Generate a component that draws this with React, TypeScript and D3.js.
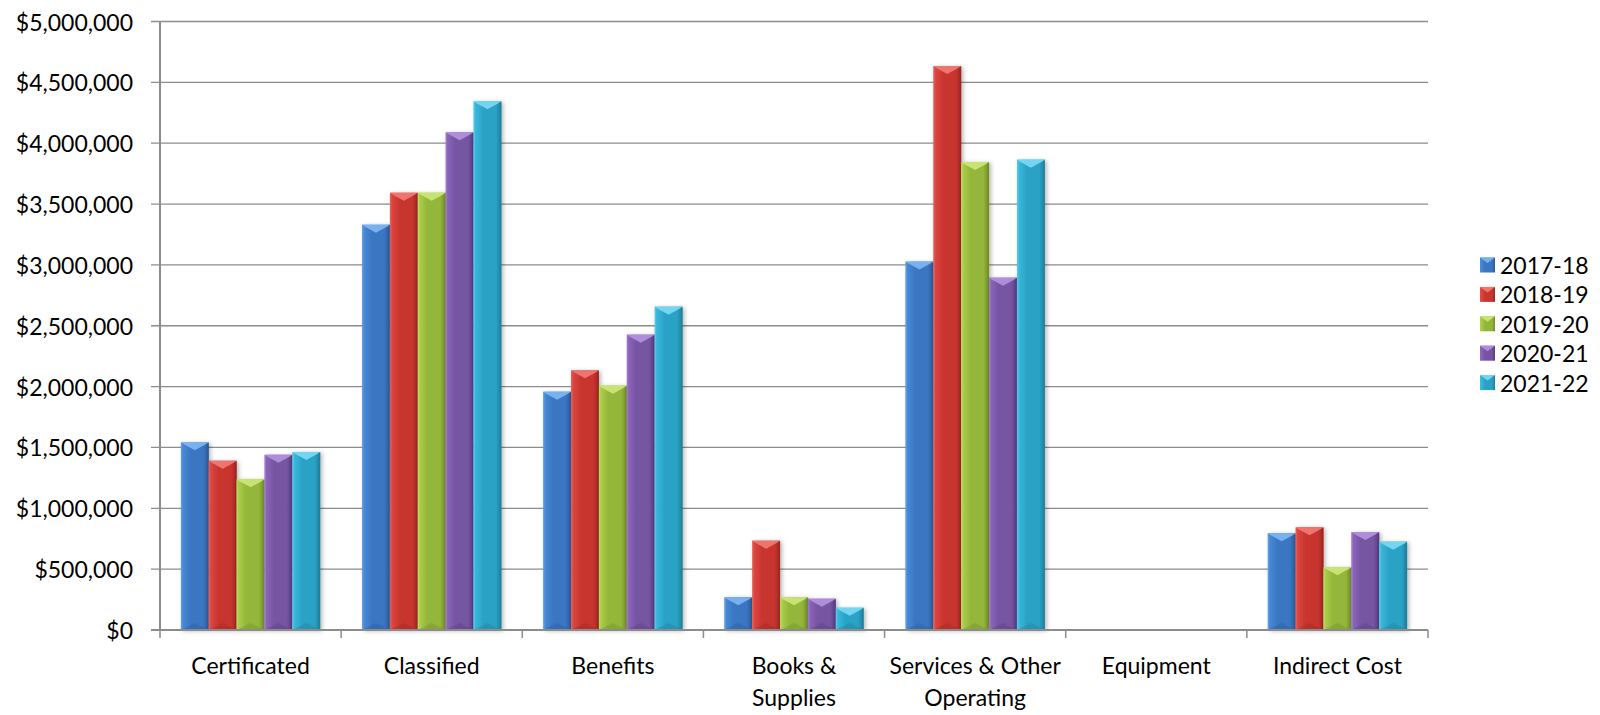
import React from "react";
import * as d3 from "d3";

// Expenditure categories and their wrapped axis labels
const categories = [
  "Certificated",
  "Classified",
  "Benefits",
  "Books & Supplies",
  "Services & Other Operating",
  "Equipment",
  "Indirect Cost",
];
const categoryLabelLines = [
  ["Certificated"],
  ["Classified"],
  ["Benefits"],
  ["Books &", "Supplies"],
  ["Services & Other", "Operating"],
  ["Equipment"],
  ["Indirect Cost"],
];

// Fiscal years (series)
const years = ["2017-18", "2018-19", "2019-20", "2020-21", "2021-22"];

// Spending per category, one array per fiscal year
const values2017 = [1542000, 3330000, 1958000, 269000, 3027000, 0, 795000];
const values2018 = [1391000, 3593000, 2134000, 734000, 4634000, 0, 844000];
const values2019 = [1238000, 3593000, 2008000, 269000, 3846000, 0, 515000];
const values2020 = [1440000, 4089000, 2427000, 257000, 2895000, 0, 805000];
const values2021 = [1463000, 4344000, 2657000, 183000, 3865000, 0, 726000];
const seriesValues = [values2017, values2018, values2019, values2020, values2021];

// Y-axis tick values
const yTicks = [0, 500000, 1000000, 1500000, 2000000, 2500000, 3000000, 3500000, 4000000, 4500000, 5000000];

// Bevel palette per series: [light edge, body, dark edge, top face]
const palette = [
  ["#4a8ddb", "#3a76c2", "#2a5a98", "#7fb8f2"],
  ["#e24a46", "#c8352f", "#9c2622", "#f27c74"],
  ["#afd24e", "#93b63a", "#6f8c27", "#cfe879"],
  ["#8f68bf", "#7654a3", "#553b7f", "#b594e0"],
  ["#3cbde0", "#2ba2c5", "#1d7f9c", "#7bdaf3"],
];

const W = 1600;
const H = 715;
const FONT = "Lato, 'Open Sans', sans-serif";

export default function App() {
  const plotLeft = 160;
  const plotRight = 1428;
  const y = d3.scaleLinear().domain([0, 5000000]).range([630, 21.5]);
  const x0 = d3.scaleBand<string>().domain(categories).range([plotLeft, plotRight]).paddingInner(0).paddingOuter(0);
  const x1 = d3
    .scaleBand<string>()
    .domain(years)
    .range([0, x0.bandwidth()])
    .paddingInner(0)
    .paddingOuter(0.75);
  const fmt = (v: number) => "$" + d3.format(",")(v);
  const bw = x1.bandwidth();
  const base = y(0);

  const boundaries = categories.map((c) => x0(c) as number).concat([plotRight]);

  return (
    <svg
      width={W}
      height={H}
      style={{ position: "absolute", left: 0, top: 0, background: "#fff" }}
      fontFamily={FONT}
    >
      <defs>
        {palette.map((p, i) => (
          <linearGradient key={i} id={`barGrad${i}`} x1="0" x2="1" y1="0" y2="0">
            <stop offset="0" stopColor={p[0]} />
            <stop offset="0.35" stopColor={p[1]} />
            <stop offset="0.8" stopColor={p[1]} />
            <stop offset="1" stopColor={p[2]} />
          </linearGradient>
        ))}
        <filter id="barShadow" x="-30%" y="-10%" width="160%" height="120%">
          <feDropShadow dx="2" dy="1" stdDeviation="2" floodColor="#000" floodOpacity="0.28" />
        </filter>
      </defs>

      {/* horizontal gridlines */}
      {yTicks.map((t) => (
        <line key={t} x1={plotLeft - 9} x2={plotRight} y1={y(t)} y2={y(t)} stroke="#8c8c8c" strokeWidth={1.3} />
      ))}

      {/* y-axis labels */}
      {yTicks.map((t) => (
        <text
          key={"l" + t}
          x={133}
          y={y(t)}
          textAnchor="end"
          dominantBaseline="central"
          fontSize={23}
          fill="#000"
        >
          {fmt(t)}
        </text>
      ))}

      {/* bars */}
      {categories.map((c, ci) => (
        <g key={c} transform={`translate(${x0(c)},0)`}>
          {years.map((yr, si) => {
            const v = seriesValues[si][ci];
            if (v <= 0) return null;
            const bx = x1(yr) as number;
            const top = y(v);
            const h = base - top;
            const p = palette[si];
            const bev = Math.min(8, h / 2);
            return (
              <g key={yr}>
                <rect x={bx} y={top} width={bw} height={h} fill={`url(#barGrad${si})`} filter="url(#barShadow)" />
                {/* top bevel face */}
                <polygon
                  points={`${bx},${top} ${bx + bw},${top} ${bx + bw - 3},${top + 2} ${bx + bw / 2},${top + bev} ${bx + 3},${top + 2}`}
                  fill={p[3]}
                  opacity={0.9}
                />
                {/* bottom bevel */}
                <polygon
                  points={`${bx},${base} ${bx + bw},${base} ${bx + bw / 2},${base - Math.min(7, h / 2)}`}
                  fill={p[2]}
                  opacity={0.35}
                />
                {/* side edges */}
                <rect x={bx} y={top + 1} width={1.5} height={h - 1} fill={p[3]} opacity={0.35} />
                <rect x={bx + bw - 1.5} y={top + 1} width={1.5} height={h - 1} fill={p[2]} opacity={0.6} />
              </g>
            );
          })}
        </g>
      ))}

      {/* axes */}
      <line x1={plotLeft} x2={plotLeft} y1={y(5000000)} y2={base + 1} stroke="#8c8c8c" strokeWidth={2} />
      <line x1={plotLeft - 9} x2={plotRight} y1={base} y2={base} stroke="#8c8c8c" strokeWidth={2} />
      {boundaries.map((bx, i) => (
        <line key={"t" + i} x1={bx} x2={bx} y1={base} y2={base + 8} stroke="#8c8c8c" strokeWidth={1.5} />
      ))}

      {/* category labels */}
      {categories.map((c, ci) => {
        const cx = (x0(c) as number) + x0.bandwidth() / 2;
        return (
          <text key={"c" + c} x={cx} textAnchor="middle" fontSize={23} fill="#000">
            {categoryLabelLines[ci].map((line, li) => (
              <tspan key={li} x={cx} y={665 + li * 32} dominantBaseline="central">
                {line}
              </tspan>
            ))}
          </text>
        );
      })}

      {/* legend */}
      {years.map((yr, si) => {
        const cy = 265 + si * 29.4;
        const p = palette[si];
        return (
          <g key={"lg" + yr}>
            <rect x={1480} y={cy - 7.5} width={15} height={15} fill={`url(#barGrad${si})`} />
            <polygon points={`${1480},${cy - 7.5} ${1495},${cy - 7.5} ${1487.5},${cy - 2}`} fill={p[3]} opacity={0.9} />
            <text x={1500} y={cy} dominantBaseline="central" fontSize={23} fill="#000">
              {yr}
            </text>
          </g>
        );
      })}
    </svg>
  );
}
